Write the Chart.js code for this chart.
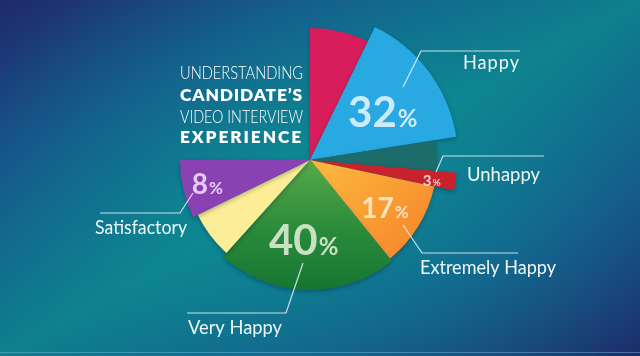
<!DOCTYPE html>
<html><head><meta charset="utf-8">
<script src="https://cdn.jsdelivr.net/npm/chart.js@4/dist/chart.umd.min.js"></script>
<style>
html,body{margin:0;padding:0;width:640px;height:356px;overflow:hidden;background:#163f7c}
#wrap{position:relative;width:640px;height:356px;
background:
 radial-gradient(ellipse 60% 75% at 52% 55%, rgba(10,150,152,0.6) 0%, rgba(10,150,152,0) 100%),
 linear-gradient(to bottom right, #1f2a6c 0%, #16548a 24%, #0e808e 50%, #16548a 76%, #1e2a6a 100%);}
#wrap:after{content:"";position:absolute;left:0;right:0;top:352px;height:1px;background:rgba(120,190,215,0.45)}
canvas{display:block;position:absolute;left:0;top:0}
</style></head><body><div id="wrap"><canvas id="c" width="640" height="356"></canvas></div>
<script>
// ---- data ----
const categories   = ['', 'Happy', '', 'Unhappy', 'Extremely Happy', 'Very Happy', '', 'Satisfactory'];
const percentages  = [null, 32, null, 3, 17, 40, null, 8];
const sliceAngles  = [26, 55, 14, 7, 39, 81, 22, 26];        // degrees of each wedge
const sliceRadii   = [132, 148, 127, 147, 127, 130, 125, 130]; // radial length of each wedge
const titleLines   = ['UNDERSTANDING', 'CANDIDATE\u2019S', 'VIDEO INTERVIEW', 'EXPERIENCE'];

// ---- styling ----
const FONT = 'Lato, "Open Sans", "DejaVu Sans", sans-serif';
const flatColors = ['#d71d5b', '#29a9e1', '#1c6c6c', '#c8232d', '#f89a33', '#2e8d3b', '#fbee96', '#8a42b3'];
const pctStyle = {
  1: {num: 42, pct: 24, color: '#cdeaf9', frac: 0.59, da: 3},
  3: {num: 15, pct: 10, color: '#f8d0d5', frac: 0.84, da: 1},
  4: {num: 28, pct: 17, color: '#fde4bf', frac: 0.70, da: 1},
  5: {num: 42, pct: 24, color: '#c9e0c3', frac: 0.62, da: 3},
  7: {num: 28, pct: 17, color: '#e6cbf3', frac: 0.81, da: 0}
};
const leaders = {
  1: {pts: [[403,87],[421,51],[520,51]], tx: 463, ty: 63, w: 57},
  3: {pts: [[436,172],[443,156],[544,156]], tx: 467, ty: 175, w: 73},
  4: {pts: [[403,225],[422,253],[518,253]], tx: 420, ty: 268, w: 136},
  7: {pts: [[193,193],[180,213],[100,213]], tx: 95, ty: 228, w: 92},
  5: {pts: [[303,263],[286,313],[187,313]], tx: 188, ty: 328, w: 94}
};

function bg(ctx) {
  const i = ctx.dataIndex;
  const chart = ctx.chart;
  const sc = chart.scales && chart.scales.r;
  if (!sc || !chart.chartArea) return flatColors[i];
  const cx = sc.xCenter, cy = sc.yCenter, g = chart.ctx;
  if (i === 4) {
    const gr = g.createLinearGradient(cx + 20, cy + 5, cx + 110, cy + 95);
    gr.addColorStop(0, '#fbb43c'); gr.addColorStop(1, '#f6862b'); return gr;
  }
  if (i === 5) {
    const gr = g.createLinearGradient(cx, cy, cx, cy + 130);
    gr.addColorStop(0, '#58aa48'); gr.addColorStop(0.55, '#2a8a3a'); gr.addColorStop(1, '#167632'); return gr;
  }
  return flatColors[i];
}

function fitText(g, text, x, y, width, align) {
  g.save();
  let w = g.measureText(text).width;
  if (w < width && text.length > 1) {
    g.letterSpacing = ((width - w) / (text.length - 1)).toFixed(2) + 'px';
  }
  const left = align === 'right' ? x - width : x;
  g.textAlign = 'left';
  g.fillText(text, left, y, width);
  g.restore();
}

const shadowPlugin = {
  id: 'sliceShadow',
  beforeDatasetsDraw(c) {
    const g = c.ctx; g.save();
    g.shadowColor = 'rgba(0,10,40,0.28)'; g.shadowBlur = 4; g.shadowOffsetX = 0; g.shadowOffsetY = 2;
  },
  afterDatasetsDraw(c) { c.ctx.restore(); }
};

const labelPlugin = {
  id: 'infoLabels',
  afterDatasetsDraw(c) {
    const g = c.ctx;
    const meta = c.getDatasetMeta(0);
    const sc = c.scales.r;
    g.save();
    g.textBaseline = 'alphabetic';
    meta.data.forEach((arc, i) => {
      const p = percentages[i];
      if (p == null) return;
      const s = pctStyle[i];
      const mid = (arc.startAngle + arc.endAngle) / 2 + s.da * Math.PI / 180;
      const r = arc.outerRadius * s.frac;
      const cx = sc.xCenter + Math.cos(mid) * r;
      const cy = sc.yCenter + Math.sin(mid) * r;
      g.font = `700 ${s.num}px ${FONT}`;
      const wn = g.measureText(String(p)).width;
      g.font = `700 ${s.pct}px ${FONT}`;
      const wp = g.measureText('%').width;
      const x0 = cx - (wn + wp + 1) / 2;
      const base = cy + s.num * 0.36;
      g.fillStyle = s.color;
      g.textAlign = 'left';
      g.font = `700 ${s.num}px ${FONT}`;
      g.fillText(String(p), x0, base);
      g.font = `700 ${s.pct}px ${FONT}`;
      g.fillText('%', x0 + wn + 1, base);
    });
    // leader lines + category labels
    g.strokeStyle = 'rgba(235,245,250,0.85)';
    g.lineWidth = 1.2;
    g.fillStyle = '#eef7fa';
    g.textBaseline = 'middle';
    Object.keys(leaders).forEach(k => {
      const L = leaders[k];
      g.beginPath();
      L.pts.forEach((pt, j) => j ? g.lineTo(pt[0], pt[1]) : g.moveTo(pt[0], pt[1]));
      g.stroke();
      g.font = `400 18.5px ${FONT}`;
      fitText(g, categories[k], L.tx, L.ty, L.w, 'left');
    });
    // title
    g.fillStyle = '#ffffff';
    const ys = [73, 95, 117, 137];
    titleLines.forEach((t, j) => {
      g.font = (j % 2 ? '800 ' : '300 ') + `17.5px ${FONT}`;
      fitText(g, t, 303, ys[j], 123, 'right');
    });
    g.restore();
  }
};

new Chart(document.getElementById('c'), {
  type: 'polarArea',
  data: {
    labels: categories,
    datasets: [{
      data: sliceRadii,
      angle: (ctx) => sliceAngles[ctx.dataIndex],
      backgroundColor: bg,
      borderWidth: 0
    }]
  },
  options: {
    responsive: false,
    animation: false,
    layout: {padding: {left: 160, right: 180, top: 10, bottom: 46}},
    scales: {r: {display: false, min: 0, max: 150, startAngle: 0}},
    plugins: {legend: {display: false}, tooltip: {enabled: false}}
  },
  plugins: [shadowPlugin, labelPlugin]
});
</script></body></html>
